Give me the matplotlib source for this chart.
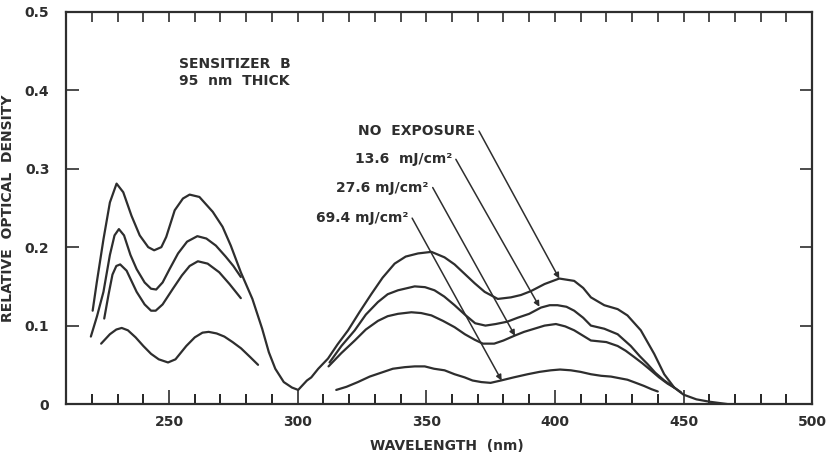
import matplotlib
matplotlib.use("Agg")
import matplotlib.pyplot as plt

# NO EXPOSURE (one continuous trace)
wl_none = [220.3, 221.9, 224.5, 227, 229.6, 232.2, 235.4, 238.6, 241.9, 244.2, 247, 248.9,
           252.2, 255.4, 258, 261.8, 267, 270.8, 274, 277.9, 282.4, 286.2, 288.8, 291.3,
           294.6, 297.8, 300.2, 303.6, 305.3, 308, 311.8, 315.5, 319.6, 324, 328.6, 333,
           337.7, 342, 346.8, 352, 357.1, 361, 364.9, 368.8, 372.7, 377.8, 382.9, 386.8,
           390.7, 396, 401.7, 407.5, 411, 414, 419.2, 424.4, 428.2, 433.4, 438.6, 442.5,
           446.4, 450, 455, 460, 467]
od_none = [0.119, 0.155, 0.21, 0.257, 0.281, 0.270, 0.240, 0.215, 0.200, 0.196, 0.200, 0.213,
           0.247, 0.262, 0.267, 0.264, 0.245, 0.226, 0.202, 0.168, 0.134, 0.096, 0.066, 0.045,
           0.028, 0.021, 0.018, 0.030, 0.034, 0.045, 0.058, 0.076, 0.094, 0.117, 0.140, 0.161,
           0.179, 0.188, 0.192, 0.194, 0.187, 0.178, 0.166, 0.154, 0.143, 0.134, 0.136, 0.139,
           0.144, 0.153, 0.160, 0.157, 0.148, 0.136, 0.126, 0.121, 0.113, 0.094, 0.064, 0.038,
           0.021, 0.012, 0.006, 0.003, 0.0]

# 13.6 mJ/cm2
wl_136a = [219.6, 222, 224.5, 227, 228.8, 230.5, 232.5, 235, 237.4, 240.5, 243, 245, 247.5,
           250.2, 253.5, 257, 261, 264.5, 268.2, 272, 275, 277.9]
od_136a = [0.086, 0.112, 0.143, 0.19, 0.215, 0.223, 0.215, 0.19, 0.172, 0.155, 0.147, 0.146,
           0.155, 0.172, 0.192, 0.207, 0.214, 0.211, 0.202, 0.188, 0.176, 0.162]
wl_136b = [312.4, 317, 322.2, 326.5, 331.2, 335, 339, 345.5, 349.5, 353.2, 357, 361, 365,
           369, 373, 377, 381.5, 385.5, 390, 394.6, 398, 401, 404.5, 407.5, 411, 414, 419.2,
           424.4, 429.5, 433, 436, 439, 442.5, 446.4, 449]
od_136b = [0.053, 0.074, 0.094, 0.114, 0.130, 0.140, 0.145, 0.150, 0.149, 0.145, 0.137, 0.126,
           0.114, 0.103, 0.100, 0.102, 0.105, 0.110, 0.115, 0.123, 0.126, 0.126, 0.124, 0.119,
           0.110, 0.100, 0.096, 0.089, 0.074, 0.061, 0.051, 0.040, 0.030, 0.021, 0.015]

# 27.6 mJ/cm2
wl_276a = [224.8, 226.5, 228, 229.5, 231, 233.5, 237.4, 240.5, 243, 244.8, 247.5, 251.5, 255,
           258, 261.2, 265, 269.5, 273.5, 277.9]
od_276a = [0.109, 0.14, 0.165, 0.176, 0.178, 0.170, 0.143, 0.127, 0.119, 0.119, 0.127, 0.147,
           0.164, 0.176, 0.182, 0.179, 0.168, 0.153, 0.135]
wl_276b = [312, 317, 322.2, 326.5, 331.2, 335, 339, 344.2, 348, 352, 356.5, 361, 365, 368.8,
           372, 376.4, 380, 384.2, 388, 392, 396, 400.4, 404, 407.5, 411, 414, 417, 420, 424.4,
           427.5, 430.8, 434, 437.3, 440.5, 443.8, 446.4]
od_276b = [0.048, 0.065, 0.081, 0.095, 0.106, 0.112, 0.115, 0.117, 0.116, 0.113, 0.106, 0.098,
           0.089, 0.082, 0.077, 0.077, 0.081, 0.087, 0.092, 0.096, 0.100, 0.102, 0.099, 0.094,
           0.087, 0.081, 0.080, 0.079, 0.074, 0.068, 0.060, 0.052, 0.043, 0.034, 0.026, 0.021]

# 69.4 mJ/cm2
wl_694a = [223.6, 227, 229.5, 231.6, 234, 237, 240, 243, 246, 249.6, 252.5, 256.7, 260, 263,
           265.4, 268.5, 271.5, 274.7, 278, 281.5, 284.6]
od_694a = [0.077, 0.089, 0.095, 0.097, 0.094, 0.085, 0.074, 0.064, 0.057, 0.053, 0.057, 0.074,
           0.085, 0.091, 0.092, 0.090, 0.086, 0.079, 0.071, 0.060, 0.050]
wl_694b = [315, 319, 323.4, 328, 332.5, 337, 341.6, 345.5, 349.4, 353, 357.1, 361, 364.9, 368,
           371.4, 375, 379, 384, 389.4, 394, 398.4, 402, 406.2, 410, 414, 418, 421.8, 425,
           428.2, 431.5, 434.7, 437.5, 440]
od_694b = [0.018, 0.022, 0.028, 0.035, 0.040, 0.045, 0.047, 0.048, 0.048, 0.045, 0.043, 0.038,
           0.034, 0.030, 0.028, 0.027, 0.030, 0.034, 0.038, 0.041, 0.043, 0.044, 0.043, 0.041,
           0.038, 0.036, 0.035, 0.033, 0.031, 0.027, 0.023, 0.019, 0.016]

labels = ["NO  EXPOSURE", "13.6  mJ/cm²", "27.6 mJ/cm²", "69.4 mJ/cm²"]
label_xy = [(370.5, 0.348), (361.5, 0.312), (352.5, 0.276), (344.5, 0.237)]
arrow_to = [(401.7, 0.160), (394.0, 0.124), (384.5, 0.087), (379.3, 0.030)]

ink = "#2e2e2e"
font = {"family": "DejaVu Sans", "weight": "bold", "color": ink}

fig = plt.figure(figsize=(8.27, 4.55), dpi=100)
ax = fig.add_axes([0.080, 0.112, 0.902, 0.862])

for w, o in [(wl_none, od_none), (wl_136a, od_136a), (wl_136b, od_136b),
             (wl_276a, od_276a), (wl_276b, od_276b), (wl_694a, od_694a), (wl_694b, od_694b)]:
    ax.plot(w, o, color=ink, lw=1.6, solid_capstyle="round", solid_joinstyle="round")

for lab, (tx, ty), (ex, ey) in zip(labels, label_xy, arrow_to):
    ax.text(tx - 1.5, ty, lab, ha="right", va="center", fontsize=10, **font)
    ax.annotate("", xy=(ex, ey), xytext=(tx, ty),
                arrowprops=dict(arrowstyle="-|>", color=ink, lw=1.1, mutation_scale=8,
                                shrinkA=0, shrinkB=0))

ax.text(254, 0.443, "SENSITIZER  B\n95  nm  THICK", ha="left", va="top", fontsize=10,
        linespacing=1.3, **font)

ax.set_xlim(210, 500)
ax.set_ylim(0, 0.5)

ax.set_xticks([250, 300, 350, 400, 450, 500])
ax.set_xticks(range(220, 500, 10), minor=True)
ax.set_yticks([0, 0.1, 0.2, 0.3, 0.4, 0.5])
ax.set_yticklabels(["0", "0.1", "0.2", "0.3", "0.4", "0.5"])
ax.tick_params(axis="x", which="major", direction="in", length=10, width=1.2, pad=8,
               labelsize=10, colors=ink)
ax.tick_params(axis="x", which="minor", direction="in", length=7, width=1.2)
ax.tick_params(axis="y", direction="in", length=9, width=1.2, pad=12, labelsize=10,
               right=True, colors=ink)
for t in ax.get_xticklabels() + ax.get_yticklabels():
    t.set_fontweight("bold")

top = ax.secondary_xaxis("top")
top.set_xticks(range(220, 500, 10))
top.tick_params(direction="in", length=7, width=1.2, labeltop=False, colors=ink)
top.spines["top"].set_visible(False)

for s in ax.spines.values():
    s.set_linewidth(1.6)
    s.set_color(ink)

ax.set_xlabel("WAVELENGTH  (nm)", fontsize=10, **font)
ax.xaxis.set_label_coords(0.51, -0.09)
ax.set_ylabel("RELATIVE  OPTICAL  DENSITY", fontsize=10, **font)
ax.yaxis.set_label_coords(-0.068, 0.5)

fig.savefig("out.png", dpi=100)
